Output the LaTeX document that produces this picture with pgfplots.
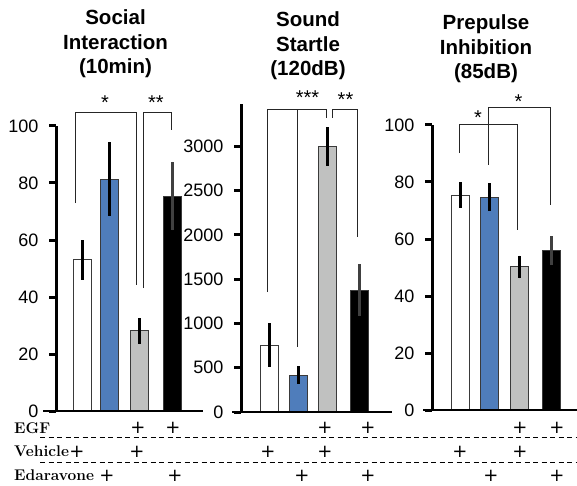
\documentclass[border=0pt]{standalone}
\usepackage{pgfplots}
\pgfplotsset{compat=1.18}
\usepackage{fontspec}
\setsansfont{Liberation Sans}
\newfontfamily\plusfont{DejaVu Sans}
\definecolor{barblue}{HTML}{4F7DBB}
\definecolor{bargray}{HTML}{C0C1C0}
\definecolor{edge}{HTML}{3A3A3A}
\pgfplotsset{
  panel/.style={scale only axis, clip=false, axis x line=none, axis y line*=left,
    axis line style={line width=3pt, black}, ymin=0, xtick=\empty,
    tick style={line width=3pt, black}, major tick length=7pt, tick align=outside,
    yticklabel style={font=\fontsize{18}{20}\selectfont\sffamily, xshift=-7pt},
    /pgf/number format/assume math mode=true, /pgf/number format/1000 sep={}},
  mybar/.style={ybar, bar width=18pt, bar shift=0pt, draw=edge, line width=1pt, fill=#1,
    error bars/y dir=both, error bars/y explicit, error bars/error mark=none,
    error bars/error bar style={line width=3pt, black}},
}
\tikzset{brk/.style={line width=1pt, black!85}}
\begin{document}
\begin{tikzpicture}[x=1pt,y=1pt]
% ---------- Panel 1
\begin{axis}[panel, at={(56pt,74pt)}, anchor=south west, width=147pt, height=285pt,
  xmin=56, xmax=203, ymax=100, ytick={0,20,40,60,80,100}]
\addplot[mybar=white] coordinates {(82,53) +- (0,7)};
\addplot[mybar=barblue] coordinates {(109.5,81.4) +- (0,13)};
\addplot[mybar=bargray] coordinates {(139.5,28.1) +- (0,4.6)};
\addplot[mybar=black, error bars/error bar style={line width=3pt, black!75}] coordinates {(172,75.4) +- (0,12)};
\draw[line width=2.5pt] (axis cs:43,0) -- (axis cs:203,0);
\draw[brk] (axis cs:75,{(411-203)/2.85}) -- (axis cs:75,{(411-113)/2.85}) -- (axis cs:136,{(411-113)/2.85}) -- (axis cs:136,{(411-285)/2.85});
\draw[brk] (axis cs:143,{(411-288)/2.85}) -- (axis cs:143,{(411-113)/2.85}) -- (axis cs:171,{(411-113)/2.85}) -- (axis cs:171,{(411-130)/2.85});
\end{axis}
% ---------- Panel 2
\begin{axis}[panel, at={(241pt,73pt)}, anchor=south west, width=151pt, height=308pt,
  xmin=241, xmax=392, ymax=3480, ytick={0,500,1000,1500,2000,2500,3000}]
\addplot[mybar=white] coordinates {(269.5,756) +- (0,245)};
\addplot[mybar=barblue] coordinates {(298.8,418) +- (0,100)};
\addplot[mybar=bargray] coordinates {(327.3,3000) +- (0,215)};
\addplot[mybar=black, error bars/error bar style={line width=3pt, black!75}] coordinates {(359.3,1377) +- (0,295)};
\draw[line width=2.5pt] (axis cs:232,0) -- (axis cs:392,0);
\draw[brk] (axis cs:267,{(412-292)*11.2987}) -- (axis cs:267,{(412-110)*11.2987}) -- (axis cs:326,{(412-110)*11.2987}) -- (axis cs:326,{(412-118)*11.2987});
\draw[brk] (axis cs:297,{(412-110)*11.2987}) -- (axis cs:297,{(412-347)*11.2987});
\draw[brk] (axis cs:332,{(412-118)*11.2987}) -- (axis cs:332,{(412-110)*11.2987}) -- (axis cs:357,{(412-110)*11.2987}) -- (axis cs:357,{(412-237)*11.2987});
\end{axis}
% ---------- Panel 3
\begin{axis}[panel, at={(432pt,75pt)}, anchor=south west, width=145pt, height=285pt,
  xmin=432, xmax=577, ymax=100, ytick={0,20,40,60,80,100}]
\addplot[mybar=white] coordinates {(460.5,75.4) +- (0,4.5)};
\addplot[mybar=barblue] coordinates {(489,74.7) +- (0,4.8)};
\addplot[mybar=bargray] coordinates {(519,50.2) +- (0,4)};
\addplot[mybar=black, error bars/error bar style={line width=3pt, black!75}] coordinates {(551,56) +- (0,5)};
\draw[line width=2.5pt] (axis cs:423,0) -- (axis cs:577,0);
\draw[brk] (axis cs:459,{(410-153)/2.85}) -- (axis cs:459,{(410-125)/2.85}) -- (axis cs:517,{(410-125)/2.85}) -- (axis cs:517,{(410-230)/2.85});
\draw[brk] (axis cs:488,{(410-165)/2.85}) -- (axis cs:488,{(410-108)/2.85}) -- (axis cs:550,{(410-108)/2.85}) -- (axis cs:550,{(410-205)/2.85});
\end{axis}
% ---------- annotations in pixel coordinates
\begin{scope}[yshift=485pt, yscale=-1]
\tikzset{ttl/.style={align=center, font=\sffamily\bfseries\fontsize{20.5}{24.5}\selectfont},
  star/.style={anchor=base, inner sep=0pt, font=\sffamily\fontsize{20}{20}\selectfont},
  row/.style={anchor=west, inner sep=0pt, font=\rmfamily\bfseries\fontsize{15.5}{18}\selectfont},
  pl/.style={inner sep=0pt, font=\plusfont\fontsize{18}{18}\selectfont}}
\node[ttl] at (115.5,44) {Social\\Interaction\\(10min)};
\node[ttl] at (308,46) {Sound\\Startle\\(120dB)};
\node[ttl] at (486,49) {Prepulse\\Inhibition\\(85dB)};
\node[star] at (105,110) {*};
\node[star] at (156,110) {**};
\node[star] at (307.5,105) {***};
\node[star] at (345.5,107) {**};
\node[star] at (478,125) {*};
\node[star] at (518.5,109) {*};
\node[row] at (14,428) {EGF};
\node[row] at (14,451) {Vehicle};
\node[row] at (14,475.5) {Edaravone};
\draw[line width=1pt, dash pattern=on 5pt off 3.5pt] (40,437) -- (577,437);
\draw[line width=1pt, dash pattern=on 5pt off 3.5pt] (40,462) -- (577,462);
\foreach \x in {138,173,325,368,520,557} \node[pl] at (\x,427.5) {+};
\foreach \x in {77,137,268,325,460,520} \node[pl] at (\x,452) {+};
\foreach \x in {107,175,302,368} \node[pl] at (\x,475.5) {+};
\foreach \x in {491,557} \node[pl] at (\x,476) {+};
\end{scope}
\pgfresetboundingbox
\useasboundingbox (0,0) rectangle (577,485);
\end{tikzpicture}
\end{document}
